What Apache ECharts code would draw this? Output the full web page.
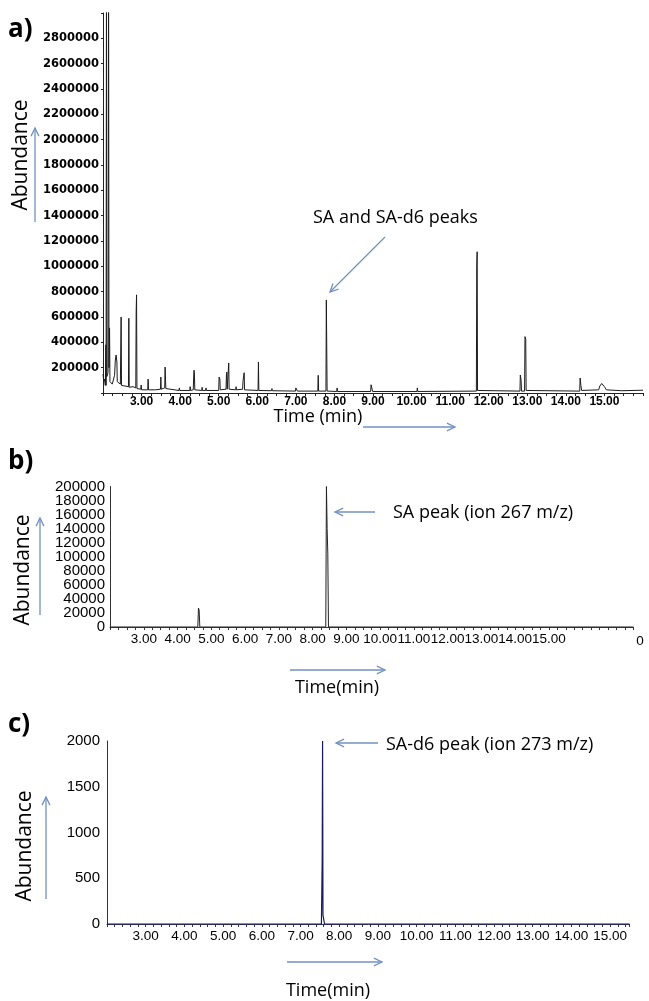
<!DOCTYPE html>
<html>
<head>
<meta charset="utf-8">
<script src="https://cdn.jsdelivr.net/npm/echarts@6/dist/echarts.min.js"></script>
<style>
  html, body { margin: 0; padding: 0; background: #fff; }
  #main { width: 649px; height: 1001px; }
</style>
</head>
<body>
<div id="main"></div>
<script>
// a) total ion chromatogram (time in min, abundance)
var timeA = [2.00, 2.02, 2.04, 2.06, 2.075, 2.08, 2.09, 2.10, 2.13, 2.145, 2.155, 2.17, 2.18, 2.24, 2.29, 2.30, 2.32, 2.34, 2.36, 2.37,
  2.45, 2.46, 2.47, 2.48, 2.57, 2.66, 2.67, 2.68, 2.78, 2.85, 2.86, 2.87, 2.88, 2.98, 2.99, 3.00, 3.16, 3.17, 3.18, 3.36,
  3.37, 3.38, 3.49, 3.50, 3.51, 3.60, 3.61, 3.62, 3.63, 3.97, 3.98, 3.99, 4.25, 4.26, 4.27, 4.34, 4.35, 4.36, 4.37, 4.38,
  4.56, 4.57, 4.58, 4.66, 4.67, 4.68, 5.00, 5.01, 5.03, 5.04, 5.19, 5.20, 5.21, 5.22, 5.25, 5.26, 5.27, 5.44, 5.45, 5.46,
  5.62, 5.63, 5.66, 5.67, 6.02, 6.03, 6.04, 6.37, 6.38, 6.39, 6.99, 7.00, 7.03, 7.04, 7.57, 7.58, 7.59, 7.78, 7.79, 7.80,
  7.81, 8.06, 8.07, 8.08, 8.94, 8.95, 8.98, 8.99, 10.14, 10.15, 10.16, 11.68, 11.69, 11.70, 11.71, 12.81, 12.82, 12.84, 12.85, 12.93,
  12.94, 12.96, 12.97, 14.36, 14.37, 14.39, 14.41, 14.85, 14.88, 14.93, 15.00, 15.05, 15.45, 16.00];
var abundA = [150000, 90000, 110000, 60000, 380000, 60000, 3400000, 130000, 160000, 3400000, 200000, 514000, 90000, 70000, 60000, 140000, 260000, 300000, 245000, 90000,
  70000, 70000, 600000, 60000, 55000, 50000, 590000, 45000, 50000, 40000, 640000, 775000, 35000, 30000, 63000, 25000, 25000, 110000, 25000, 25000,
  40000, 22000, 30000, 126000, 30000, 40000, 205000, 195000, 35000, 20000, 40000, 20000, 20000, 50000, 20000, 25000, 120000, 180000, 150000, 25000,
  20000, 45000, 20000, 20000, 40000, 20000, 20000, 126000, 110000, 25000, 30000, 142000, 165000, 30000, 30000, 237000, 30000, 25000, 50000, 25000,
  30000, 95000, 160000, 25000, 20000, 245000, 20000, 18000, 35000, 18000, 15000, 40000, 35000, 15000, 15000, 140000, 15000, 15000, 735000, 395000,
  15000, 12000, 40000, 12000, 12000, 65000, 60000, 12000, 12000, 40000, 12000, 15000, 1012000, 1115000, 20000, 15000, 142000, 100000, 15000, 15000,
  445000, 425000, 20000, 15000, 118000, 60000, 20000, 25000, 55000, 75000, 50000, 25000, 18000, 22000];

// b) SIM ion 267
var timeB = [2.00, 4.60, 4.62, 4.64, 4.66, 6.44, 6.46, 6.48, 8.39, 8.41, 8.43, 8.45, 8.47, 17.50];
var abundB = [0, 0, 27000, 24000, 0, 0, 2500, 0, 0, 200000, 140000, 105000, 0, 0];

// c) SIM ion 273
var timeC = [2.00, 7.54, 7.56, 7.57, 7.58, 7.60, 7.62, 15.50];
var abundC = [0, 0, 700, 2000, 100, 100, 0, 0];

var ticksA = [200000, 400000, 600000, 800000, 1000000, 1200000, 1400000, 1600000, 1800000, 2000000, 2200000, 2400000, 2600000, 2800000];
var endsB = [0, 200000];
var timeLabels = [3, 4, 5, 6, 7, 8, 9, 10, 11, 12, 13, 14, 15];

function pairs(xs, ys) {
  return xs.map(function (x, i) { return [x, ys[i]]; });
}

function timeFmt(v) {
  var r = Math.round(v);
  if (Math.abs(v - r) > 1e-6 || timeLabels.indexOf(r) < 0) return '';
  return r.toFixed(2);
}

function arrow(x1, y1, x2, y2) {
  var a = Math.atan2(y2 - y1, x2 - x1), h = 9, w = 0.45;
  return {
    type: 'group',
    children: [
      { type: 'line', shape: { x1: x1, y1: y1, x2: x2, y2: y2 }, style: { stroke: '#7391c0', lineWidth: 1.3 } },
      { type: 'polyline', shape: { points: [
          [x2 - h * Math.cos(a - w), y2 - h * Math.sin(a - w)], [x2, y2],
          [x2 - h * Math.cos(a + w), y2 - h * Math.sin(a + w)]] },
        style: { stroke: '#7391c0', lineWidth: 1.3, fill: null } }
    ]
  };
}

function txt(t, x, y, size, opts) {
  opts = opts || {};
  return {
    type: 'text', x: x, y: y, rotation: opts.rot || 0,
    style: {
      text: t, font: (opts.bold ? 'bold ' : '') + size + 'px "Open Sans"', fill: '#000',
      align: opts.align || 'left', verticalAlign: 'middle'
    }
  };
}

var myChart = echarts.init(document.getElementById('main'));

var plainLabel = { color: '#000', fontFamily: 'Liberation Sans', hideOverlap: false };

myChart.setOption({
  animation: false,
  grid: [
    { left: 103, top: 13, width: 540, height: 380, outerBoundsMode: 'none' },
    { left: 110, top: 486.5, width: 523.4, height: 140.5, outerBoundsMode: 'none' },
    { left: 107, top: 741, width: 522.5, height: 183, outerBoundsMode: 'none' }
  ],
  xAxis: [
    {
      type: 'value', gridIndex: 0, min: 2, max: 16, interval: 0.25,
      axisLine: { lineStyle: { color: '#222', width: 1 } },
      axisTick: { length: 3, lineStyle: { color: '#222' } },
      splitLine: { show: false },
      axisLabel: { formatter: timeFmt, margin: 3, color: '#000', fontFamily: 'Liberation Sans', fontWeight: 'bold', fontSize: 12 }
    },
    {
      type: 'value', gridIndex: 1, min: 2, max: 17.5, interval: 0.25,
      axisLine: { lineStyle: { color: '#333', width: 1 } },
      axisTick: { length: 3, lineStyle: { color: '#333' } },
      splitLine: { show: false },
      axisLabel: Object.assign({ formatter: timeFmt, margin: 5, fontSize: 13.5 }, plainLabel)
    },
    {
      type: 'value', gridIndex: 2, min: 2, max: 15.5, interval: 0.2,
      axisLine: { lineStyle: { color: '#2e2e5c', width: 1 } },
      axisTick: { length: 3, lineStyle: { color: '#2e2e5c' } },
      splitLine: { show: false },
      axisLabel: Object.assign({ formatter: timeFmt, margin: 5, fontSize: 13.5 }, plainLabel)
    }
  ],
  yAxis: [
    {
      type: 'value', gridIndex: 0, min: 0, max: 3000000, interval: 200000,
      axisLine: { show: true, lineStyle: { color: '#222' } },
      axisTick: { show: true, length: 2, lineStyle: { color: '#222' } },
      splitLine: { show: false },
      axisLabel: {
        margin: 4, color: '#000', fontFamily: 'DejaVu Sans', fontWeight: 'bold', fontSize: 11.5,
        formatter: function (v) { return ticksA.indexOf(v) >= 0 ? String(v) : ''; }
      }
    },
    {
      // inner labels of panel b
      type: 'value', gridIndex: 1, position: 'left', min: 0, max: 200000, interval: 20000,
      axisLine: { show: true, lineStyle: { color: '#333' } },
      axisTick: { show: false },
      splitLine: { show: false },
      axisLabel: Object.assign({ margin: 5, fontSize: 15, showMinLabel: false, showMaxLabel: false,
        formatter: function (v) { return String(v); } }, plainLabel)
    },
    {
      type: 'value', gridIndex: 2, min: 0, max: 2000, interval: 500,
      axisLine: { show: true, lineStyle: { color: '#2e2e5c' } },
      axisTick: { show: false },
      splitLine: { show: false },
      axisLabel: Object.assign({ margin: 7, fontSize: 15, formatter: function (v) { return String(v); } }, plainLabel)
    },
    {
      // end labels (0 and 200000) of panel b
      type: 'value', gridIndex: 1, position: 'left', offset: 0, min: 0, max: 200000, interval: 20000,
      axisLine: { show: false },
      axisTick: { show: false },
      splitLine: { show: false },
      axisLabel: Object.assign({ margin: 5, fontSize: 15, showMinLabel: true, showMaxLabel: true,
        formatter: function (v) { return endsB.indexOf(v) >= 0 ? String(v) : ''; } }, plainLabel)
    }
  ],
  series: [
    {
      name: 'TIC', type: 'line', xAxisIndex: 0, yAxisIndex: 0, data: pairs(timeA, abundA),
      showSymbol: false, clip: true, lineStyle: { color: '#1c1c1c', width: 1 }
    },
    {
      name: 'ion 267', type: 'line', xAxisIndex: 1, yAxisIndex: 1, data: pairs(timeB, abundB),
      showSymbol: false, clip: true, lineStyle: { color: '#222', width: 1 }
    },
    {
      name: 'ion 273', type: 'line', xAxisIndex: 2, yAxisIndex: 2, data: pairs(timeC, abundC),
      showSymbol: false, clip: true, lineStyle: { color: '#1b1b5a', width: 1.2 }
    }
  ],
  graphic: [
    txt('a)', 8, 30, 26, { bold: true }),
    txt('b)', 8, 462, 26, { bold: true }),
    txt('c)', 8, 725, 26, { bold: true }),
    txt('Abundance', 21, 155, 21, { rot: Math.PI / 2, align: 'center' }),
    txt('Abundance', 23, 570, 21, { rot: Math.PI / 2, align: 'center' }),
    txt('Abundance', 25, 846, 21, { rot: Math.PI / 2, align: 'center' }),
    arrow(35, 222, 35, 128),
    arrow(40, 615, 40, 518),
    arrow(46, 899, 46, 797),
    txt('Time (min)', 318, 417, 18, { align: 'center' }),
    arrow(363, 427, 455, 427),
    txt('Time(min)', 337, 688, 18, { align: 'center' }),
    arrow(290, 670, 385, 670),
    txt('Time(min)', 328, 991, 18, { align: 'center' }),
    arrow(287, 962, 382, 962),
    txt('SA and SA-d6 peaks', 313, 218, 18),
    arrow(385, 237, 330, 292),
    txt('SA peak (ion 267 m/z)', 393, 513, 18),
    arrow(375, 512, 335, 512),
    txt('SA-d6 peak (ion 273 m/z)', 386, 745, 18),
    arrow(378, 743, 336, 743),
    { type: 'text', x: 640, y: 641, style: { text: '0', font: '13.5px "Liberation Sans"', fill: '#000', align: 'center', verticalAlign: 'middle' } }
  ]
});
</script>
</body>
</html>
